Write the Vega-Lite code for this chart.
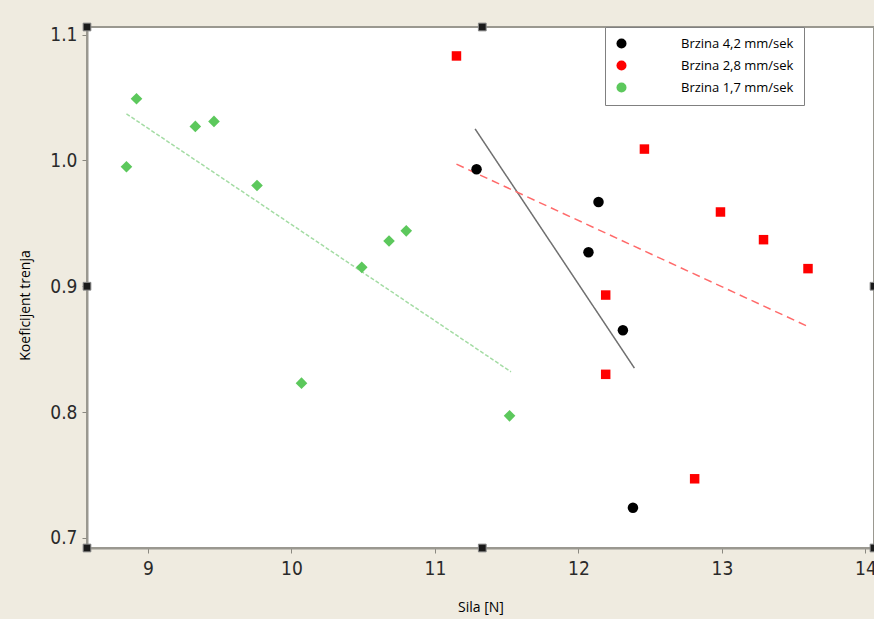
{
  "$schema": "https://vega.github.io/schema/vega-lite/v6.json",
  "autosize": {"type": "none"},
  "width": 787,
  "height": 521,
  "padding": {"left": 87, "top": 27, "right": 0, "bottom": 71},
  "background": "#efebe0",
  "config": {
    "view": {"fill": "#ffffff", "stroke": "#9a9890", "strokeWidth": 2},
    "axis": {
      "grid": false,
      "domainColor": "#9a9890",
      "domainWidth": 2,
      "tickColor": "#8a8880",
      "tickSize": 5,
      "labelFont": "DejaVu Sans Condensed",
      "labelFontSize": 19,
      "labelColor": "#2a2a2a",
      "titleFont": "Open Sans",
      "titleFontSize": 14,
      "titleFontWeight": "normal",
      "titleColor": "#000000"
    }
  },
  "datasets": {
    "points": [
      {"series": "Brzina 4,2 mm/sek", "x": 11.29, "y": 0.993},
      {"series": "Brzina 4,2 mm/sek", "x": 12.14, "y": 0.967},
      {"series": "Brzina 4,2 mm/sek", "x": 12.07, "y": 0.927},
      {"series": "Brzina 4,2 mm/sek", "x": 12.31, "y": 0.865},
      {"series": "Brzina 4,2 mm/sek", "x": 12.38, "y": 0.724},
      {"series": "Brzina 2,8 mm/sek", "x": 11.15, "y": 1.083},
      {"series": "Brzina 2,8 mm/sek", "x": 12.46, "y": 1.009},
      {"series": "Brzina 2,8 mm/sek", "x": 12.19, "y": 0.893},
      {"series": "Brzina 2,8 mm/sek", "x": 12.19, "y": 0.830},
      {"series": "Brzina 2,8 mm/sek", "x": 12.81, "y": 0.747},
      {"series": "Brzina 2,8 mm/sek", "x": 12.99, "y": 0.959},
      {"series": "Brzina 2,8 mm/sek", "x": 13.29, "y": 0.937},
      {"series": "Brzina 2,8 mm/sek", "x": 13.60, "y": 0.914},
      {"series": "Brzina 1,7 mm/sek", "x": 8.85, "y": 0.995},
      {"series": "Brzina 1,7 mm/sek", "x": 8.92, "y": 1.049},
      {"series": "Brzina 1,7 mm/sek", "x": 9.33, "y": 1.027},
      {"series": "Brzina 1,7 mm/sek", "x": 9.46, "y": 1.031},
      {"series": "Brzina 1,7 mm/sek", "x": 9.76, "y": 0.980},
      {"series": "Brzina 1,7 mm/sek", "x": 10.07, "y": 0.823},
      {"series": "Brzina 1,7 mm/sek", "x": 10.49, "y": 0.915},
      {"series": "Brzina 1,7 mm/sek", "x": 10.68, "y": 0.936},
      {"series": "Brzina 1,7 mm/sek", "x": 10.80, "y": 0.944},
      {"series": "Brzina 1,7 mm/sek", "x": 11.52, "y": 0.797}
    ],
    "fits": [
      {"series": "Brzina 4,2 mm/sek", "x": 11.28, "y": 1.025},
      {"series": "Brzina 4,2 mm/sek", "x": 12.39, "y": 0.835},
      {"series": "Brzina 2,8 mm/sek", "x": 11.15, "y": 0.997},
      {"series": "Brzina 2,8 mm/sek", "x": 13.60, "y": 0.868},
      {"series": "Brzina 1,7 mm/sek", "x": 8.85, "y": 1.037},
      {"series": "Brzina 1,7 mm/sek", "x": 11.53, "y": 0.832}
    ],
    "handles": [
      {"x": 8.575, "y": 1.106},
      {"x": 11.33, "y": 1.106},
      {"x": 8.575, "y": 0.9},
      {"x": 14.06, "y": 0.9},
      {"x": 8.575, "y": 0.692},
      {"x": 11.33, "y": 0.692},
      {"x": 14.06, "y": 0.692}
    ]
  },
  "encoding": {
    "x": {
      "field": "x", "type": "quantitative",
      "scale": {"domain": [8.575, 14.06], "nice": false, "zero": false},
      "axis": {"values": [9, 10, 11, 12, 13, 14], "format": "d", "title": "Sila [N]", "titleY": 59, "titleBaseline": "middle", "labelPadding": 6}
    },
    "y": {
      "field": "y", "type": "quantitative",
      "scale": {"domain": [0.692, 1.106], "nice": false, "zero": false},
      "axis": {"values": [0.7, 0.8, 0.9, 1.0, 1.1], "format": ".1f", "title": "Koeficijent trenja", "titleX": -62, "titleY": 278, "titleBaseline": "middle", "labelPadding": 5}
    }
  },
  "layer": [
    {
      "data": {"name": "fits"},
      "mark": {"type": "line", "strokeWidth": 1.5},
      "encoding": {
        "detail": {"field": "series"},
        "stroke": {
          "field": "series", "type": "nominal", "legend": null,
          "scale": {"range": ["#a4dca4", "#ff6a6a", "#707070"]}
        },
        "strokeDash": {
          "field": "series", "type": "nominal", "legend": null,
          "scale": {"range": [[4, 2], [8, 5], [1, 0]]}
        }
      }
    },
    {
      "data": {"name": "points"},
      "mark": {"type": "point", "filled": true, "opacity": 1},
      "encoding": {
        "color": {
          "field": "series", "type": "nominal",
          "scale": {"domain": ["Brzina 4,2 mm/sek", "Brzina 2,8 mm/sek", "Brzina 1,7 mm/sek"], "range": ["#000000", "#ff0000", "#5cc85c"]},
          "legend": {
            "title": null,
            "orient": "none",
            "legendX": 518,
            "legendY": 0,
            "fillColor": "#ffffff",
            "strokeColor": "#808080",
            "padding": 10,
            "rowPadding": 8,
            "labelFont": "Open Sans",
            "labelFontSize": 13,
            "labelColor": "#000000",
            "labelOffset": 53,
            "labelLimit": 400,
            "labelExpr": "datum.label + '\u00a0\u00a0\u00a0\u00a0\u00a0\u00a0\u00a0\u00a0\u00a0\u00a0\u00a0\u00a0\u00a0\u00a0\u00a0\u00a0\u00a0\u00a0\u00a0\u00a0\u00a0\u00a0'",
            "encoding": {
              "symbols": {
                "size": {"value": 100},
                "shape": {"signal": "datum.value == 'Brzina 4,2 mm/sek' ? 'M-1.4,0H8M2.2,0A1,1 0 1,0 4.2,0A1,1 0 1,0 2.2,0Z' : datum.value == 'Brzina 2,8 mm/sek' ? 'M-1.4,0H8M2.25,-0.95H4.15V0.95H2.25Z' : 'M-1.4,0H8M3.2,-1.15L4.35,0L3.2,1.15L2.05,0Z'"},
                "stroke": {"signal": "datum.value == 'Brzina 4,2 mm/sek' ? '#707070' : datum.value == 'Brzina 2,8 mm/sek' ? '#ff6a6a' : '#a4dca4'"},
                "strokeDash": {"signal": "datum.value == 'Brzina 4,2 mm/sek' ? [1, 0] : datum.value == 'Brzina 2,8 mm/sek' ? [8, 5] : [4, 2]"},
                "strokeWidth": {"value": 1.5}
              }
            }
          }
        },
        "shape": {
          "field": "series", "type": "nominal", "legend": null,
          "scale": {"domain": ["Brzina 1,7 mm/sek", "Brzina 2,8 mm/sek", "Brzina 4,2 mm/sek"], "range": ["diamond", "square", "circle"]}
        },
        "size": {
          "field": "series", "type": "nominal", "legend": null,
          "scale": {"type": "ordinal", "domain": ["Brzina 1,7 mm/sek", "Brzina 2,8 mm/sek", "Brzina 4,2 mm/sek"], "range": [135, 90, 110]}
        }
      }
    },
    {
      "data": {"name": "handles"},
      "mark": {"type": "square", "size": 60, "fill": "#1a1a1a", "stroke": "#8a8a8a", "strokeWidth": 1, "opacity": 1, "clip": false},
      "encoding": {}
    }
  ]
}
